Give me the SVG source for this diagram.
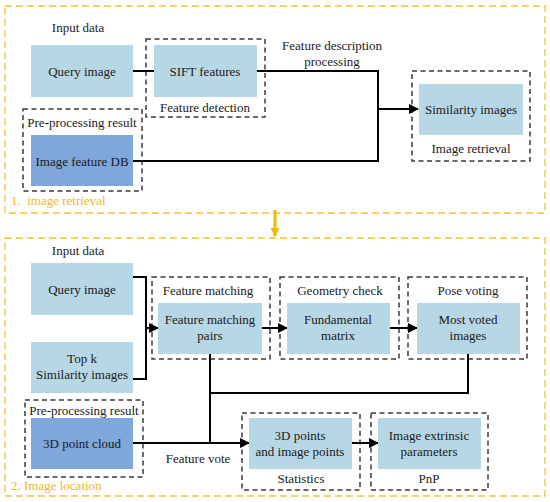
<svg xmlns="http://www.w3.org/2000/svg" width="550" height="502" viewBox="0 0 550 502">
<style>
text{font-family:'Liberation Serif','DejaVu Serif',serif;font-size:13px;fill:#1a1a1a;text-anchor:middle}
.lt{fill:#b8d7e4}
.dk{fill:#7fa7dc}
.grp{fill:none;stroke:#3a3a3a;stroke-width:1.5;stroke-dasharray:5,3.5}
.sec{fill:none;stroke:#f5c231;stroke-width:1.3;stroke-dasharray:7,4}
.yl{fill:#f0b820;text-anchor:start}
.ln{fill:none;stroke:#000;stroke-width:2}
</style>
<defs>
<marker id="ah" viewBox="0 0 10 10" refX="9" refY="5" markerWidth="5" markerHeight="5" orient="auto" markerUnits="strokeWidth"><path d="M0,0L10,5L0,10z" fill="#000"/></marker>
<marker id="yah" viewBox="0 0 10 10" refX="9" refY="5" markerWidth="3.2" markerHeight="3" orient="auto" markerUnits="strokeWidth"><path d="M0,0L10,5L0,10z" fill="#f5b800"/></marker>
</defs>
<rect width="550" height="502" fill="#fff"/>
<g font-family="Liberation Serif, DejaVu Serif, serif">
<g id="sections">
<rect class="sec" x="5" y="6" width="540" height="207"/>
<text class="yl" x="11" y="205" xml:space="preserve">1.  image retrieval</text>
<rect class="sec" x="5" y="238" width="540" height="258"/>
<text class="yl" x="11" y="490">2. Image location</text>
<line x1="275" y1="210" x2="275" y2="236" stroke="#f5b800" stroke-width="3" marker-end="url(#yah)"/>
</g>

<g id="groups">
<text x="78" y="32">Input data</text>
<rect class="grp" x="146" y="39" width="119" height="78"/>
<text x="205" y="112">Feature detection</text>
<rect class="grp" x="23" y="109" width="119" height="82"/>
<text x="82" y="127">Pre-processing result</text>
<rect class="grp" x="412" y="71" width="118" height="90"/>
<text x="471" y="153">Image retrieval</text>
<text x="332" y="50">Feature description</text>
<text x="332" y="66">processing</text>

<text x="78" y="255">Input data</text>
<rect class="grp" x="152" y="277" width="118" height="82"/>
<text x="208" y="295">Feature matching</text>
<rect class="grp" x="280" y="277" width="119" height="82"/>
<text x="340" y="295">Geometry check</text>
<rect class="grp" x="408" y="277" width="119" height="82"/>
<text x="468" y="295">Pose voting</text>
<rect class="grp" x="25" y="400" width="118" height="77"/>
<text x="84" y="415">Pre-processing result</text>
<rect class="grp" x="242" y="413" width="118" height="77"/>
<text x="301" y="483">Statistics</text>
<rect class="grp" x="371" y="413" width="117" height="77"/>
<text x="429" y="483">PnP</text>
<text x="198" y="463">Feature vote</text>
</g>

<g id="connectors">
<line class="ln" x1="133" y1="71" x2="154" y2="71"/>
<polyline class="ln" points="257,71 378,71 378,161"/>
<line class="ln" x1="133" y1="161" x2="379" y2="161"/>
<line class="ln" x1="378" y1="109" x2="418" y2="109" marker-end="url(#ah)"/>

<polyline class="ln" points="133,277 146,277 146,379 133,379"/>
<line class="ln" x1="146" y1="328" x2="158" y2="328" marker-end="url(#ah)"/>
<line class="ln" x1="262" y1="328" x2="287" y2="328" marker-end="url(#ah)"/>
<line class="ln" x1="390" y1="328" x2="417" y2="328" marker-end="url(#ah)"/>
<polyline class="ln" points="468,354 468,393 210,393"/>
<line class="ln" x1="210" y1="354" x2="210" y2="443"/>
<line class="ln" x1="133" y1="443" x2="249" y2="443" marker-end="url(#ah)"/>
<line class="ln" x1="352" y1="443" x2="378" y2="443" marker-end="url(#ah)"/>
</g>

<g id="n-query1"><rect class="lt" x="31" y="45" width="102" height="52"/><text x="82" y="76">Query image</text></g>
<g id="n-sift"><rect class="lt" x="154" y="45" width="103" height="52"/><text x="205" y="76">SIFT features</text></g>
<g id="n-featdb"><rect class="dk" x="31" y="135" width="102" height="51"/><text x="82" y="166">Image feature DB</text></g>
<g id="n-simimg"><rect class="lt" x="419" y="84" width="104" height="51"/><text x="471" y="114">Similarity images</text></g>

<g id="n-query2"><rect class="lt" x="31" y="263" width="102" height="52"/><text x="82" y="294">Query image</text></g>
<g id="n-topk"><rect class="lt" x="31" y="342" width="102" height="51"/><text x="82" y="363">Top k</text><text x="82" y="379">Similarity images</text></g>
<g id="n-fmp"><rect class="lt" x="158" y="303" width="104" height="51"/><text x="210" y="324">Feature matching</text><text x="210" y="340">pairs</text></g>
<g id="n-fund"><rect class="lt" x="287" y="303" width="103" height="51"/><text x="338" y="324">Fundamental</text><text x="338" y="340">matrix</text></g>
<g id="n-voted"><rect class="lt" x="417" y="303" width="103" height="51"/><text x="468" y="324">Most voted</text><text x="468" y="340">images</text></g>
<g id="n-cloud"><rect class="dk" x="31" y="418" width="102" height="51"/><text x="82" y="448">3D point cloud</text></g>
<g id="n-points"><rect class="lt" x="249" y="418" width="103" height="51"/><text x="300" y="440">3D points</text><text x="300" y="456">and image points</text></g>
<g id="n-extr"><rect class="lt" x="378" y="418" width="103" height="51"/><text x="429" y="440">Image extrinsic</text><text x="429" y="456">parameters</text></g>
</g>
</svg>
